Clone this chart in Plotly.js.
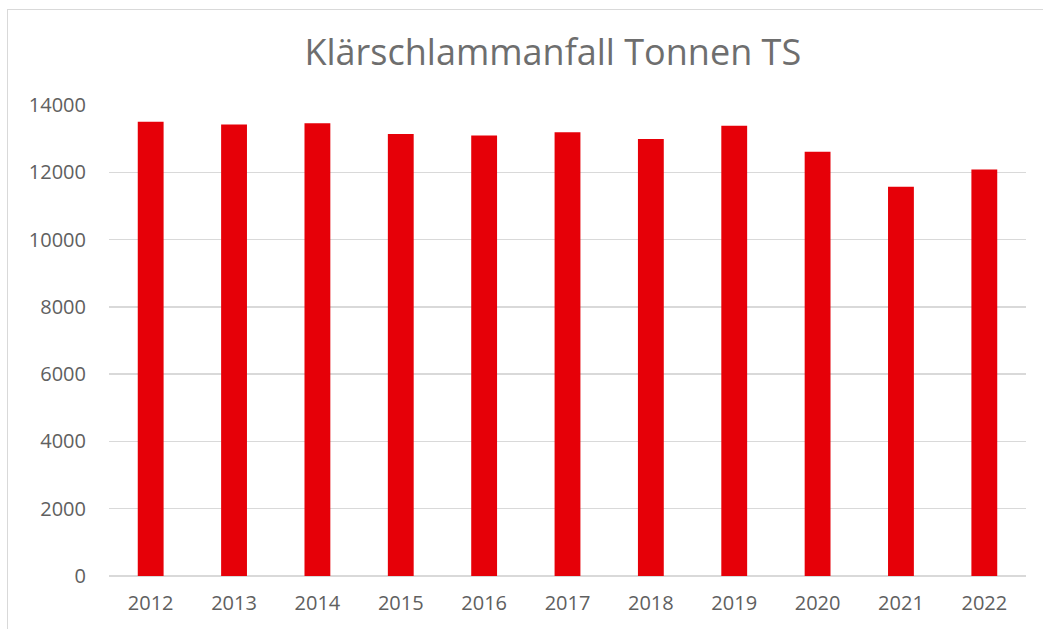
<!DOCTYPE html>
<html>
<head>
<meta charset="utf-8">
<script src="https://cdn.plot.ly/plotly-3.0.1.min.js"></script>
<style>
html,body{margin:0;padding:0;background:#fff;}
#wrap{position:relative;width:1043px;height:629px;}
#frame{position:absolute;left:7px;top:9px;width:1040px;height:630px;border-top:1px solid #d9d9d9;border-left:1px solid #d9d9d9;box-sizing:border-box;pointer-events:none;}
#chart{position:absolute;left:0;top:0;width:1043px;height:629px;}
</style>
</head>
<body>
<div id="wrap"><div id="chart"></div><div id="frame"></div></div>
<script>
const years = ["2012","2013","2014","2015","2016","2017","2018","2019","2020","2021","2022"];
const tonnenTS = [13500,13420,13460,13140,13090,13190,12990,13380,12610,11570,12080];
const yTicks = [0,2000,4000,6000,8000,10000,12000,14000];
const chartTitle = "Klärschlammanfall Tonnen TS";

const fontFam = "'Open Sans',sans-serif";
Plotly.newPlot('chart', [{
  type: 'bar',
  x: years,
  y: tonnenTS,
  marker: {color: '#e60008'},
  hoverinfo: 'x+y'
}], {
  width: 1043, height: 629,
  margin: {l: 109, r: 17, t: 105, b: 53},
  paper_bgcolor: 'rgba(0,0,0,0)',
  plot_bgcolor: '#fff',
  bargap: 0.69,
  showlegend: false,
  title: {
    text: chartTitle,
    font: {family: fontFam, size: 36, color: '#6e6e6e'},
    xref: 'paper', x: 0.484, xanchor: 'center',
    yref: 'container', y: 0.917, yanchor: 'middle'
  },
  xaxis: {
    type: 'category',
    tickfont: {family: fontFam, size: 20, color: '#606060'},
    ticks: '', ticklabelstandoff: 13,
    showline: false, showgrid: false, zeroline: false
  },
  yaxis: {
    range: [0, 14000],
    tickvals: yTicks,
    ticktext: yTicks.map(String),
    tickfont: {family: fontFam, size: 20, color: '#606060'},
    ticks: '', ticklabelstandoff: 22,
    gridcolor: '#d9d9d9', gridwidth: 1.5,
    zeroline: true, zerolinecolor: '#d9d9d9', zerolinewidth: 1.5,
    showline: false
  }
}, {displayModeBar: false, staticPlot: true});
</script>
</body>
</html>
